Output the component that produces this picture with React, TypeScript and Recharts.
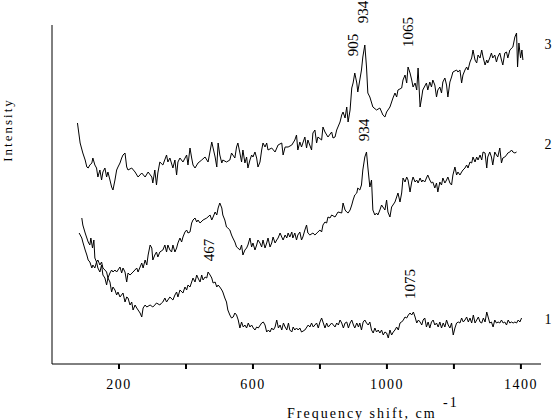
import React from 'react';
import { LineChart, Line, XAxis, YAxis } from 'recharts';

// Series 1 (bottom trace)
const s1Freq = [81,89,92,99,104,108,113,119,122,128,133,137,143,148,152,158,163,167,173,178,182,188,193,197,203,212,218,223,227,233,238,242,248,253,257,263,268,272,278,283,293,301,307,312,322,327,331,337,342,346,352,361,367,372,376,382,391,397,402,406,412,417,421,427,432,436,442,447,451,457,462,466,472,477,481,487,492,496,501,507,510,516,521,525,531,536,541,546,551,556,561,566,571,576,581,586,591,596,601,606,611,616,626,631,636,641,646,651,656,661,666,671,676,681,686,691,696,701,706,710,716,720,725,730,735,740,745,755,765,770,775,780,785,790,795,800,805,810,815,820,825,830,835,840,845,850,855,860,865,870,875,880,885,890,895,900,904,910,915,919,924,929,934,939,944,949,954,959,964,969,974,979,984,989,994,999,1004,1009,1014,1019,1024,1029,1034,1039,1044,1049,1054,1059,1064,1069,1074,1079,1084,1089,1094,1099,1104,1108,1113,1118,1123,1128,1133,1138,1143,1148,1153,1158,1163,1168,1173,1178,1183,1188,1193,1198,1203,1208,1213,1218,1223,1228,1233,1238,1243,1248,1253,1258,1263,1268,1273,1278,1283,1288,1293,1298,1303,1307,1312,1317,1322,1327,1332,1337,1342,1347,1352,1357,1362,1367,1372,1377,1382,1387,1392,1397,1402];
const s1Int = [131,126,122,114,109,104,102,96,99,96,102,96,92,99,89,86,79,86,82,72,77,74,69,72,67,71,62,67,66,59,62,54,59,56,54,51,47,56,59,57,59,57,59,61,59,61,62,66,62,64,67,64,69,72,67,74,71,77,74,79,77,82,86,82,89,86,82,89,84,87,86,92,89,86,81,82,77,79,77,74,72,66,62,54,49,46,47,51,49,44,36,42,37,39,36,41,37,39,36,34,37,36,41,42,39,32,34,32,36,34,37,44,36,39,34,41,37,34,41,34,32,37,34,36,34,36,32,34,39,37,41,37,39,41,36,42,46,41,36,41,37,39,41,39,37,41,39,44,41,36,41,42,36,41,44,39,36,41,37,41,34,42,44,41,39,42,34,31,36,32,34,31,34,29,32,31,26,34,29,32,34,37,34,41,42,44,47,46,49,51,49,52,47,41,44,42,39,44,46,37,42,36,42,44,39,41,37,42,36,41,37,44,39,36,41,29,36,41,42,41,46,42,44,47,42,46,41,49,41,44,47,42,41,46,42,52,46,41,42,37,44,41,42,41,44,41,42,39,44,41,42,41,42,41,44,42,46];

// Series 2 (middle trace)
const s2Freq = [89,92,99,104,108,113,116,121,125,128,133,137,143,148,152,158,163,167,173,178,182,188,193,197,203,208,212,218,223,227,233,242,253,257,263,268,272,278,283,287,293,298,301,307,312,316,322,331,337,342,346,352,357,361,367,372,376,382,387,391,397,402,406,412,417,421,427,432,436,442,451,462,472,477,481,487,492,496,501,507,510,516,521,525,531,536,540,546,551,555,561,566,570,576,581,585,591,596,600,606,611,615,621,626,630,636,641,645,651,656,660,666,671,675,681,686,690,696,701,705,710,716,719,725,730,734,740,745,749,755,760,764,770,779,785,794,800,805,809,815,820,824,830,835,845,854,865,869,875,880,884,890,895,899,904,910,913,919,924,928,934,939,943,949,954,958,964,969,973,979,984,988,994,999,1003,1009,1014,1018,1024,1029,1033,1039,1044,1048,1054,1059,1063,1069,1074,1078,1084,1089,1093,1099,1104,1107,1113,1118,1122,1128,1133,1137,1143,1148,1152,1158,1163,1167,1173,1178,1182,1188,1193,1197,1203,1208,1212,1218,1223,1227,1233,1238,1242,1248,1253,1257,1263,1268,1272,1278,1283,1287,1293,1298,1301,1307,1312,1316,1322,1327,1331,1337,1342,1346,1352,1357,1361,1367,1372,1376,1382,1387];
const s2Int = [146,139,131,126,122,119,126,116,124,106,102,104,99,102,96,94,92,86,91,94,92,94,92,94,97,91,96,92,82,91,89,92,96,92,97,101,96,104,99,109,119,116,104,109,112,107,112,114,119,112,119,114,112,119,112,116,121,126,122,127,132,134,131,132,141,144,146,142,144,141,144,146,149,144,147,152,149,156,161,156,149,144,137,136,134,129,126,122,117,116,114,119,109,114,116,119,126,117,121,114,119,124,121,117,124,116,121,126,117,121,127,121,124,126,131,127,124,129,126,131,127,132,126,131,124,129,132,124,127,134,139,131,129,131,129,132,134,132,139,142,141,147,146,149,147,152,151,161,154,152,151,154,159,164,169,171,176,174,179,194,207,212,197,177,184,154,149,151,149,154,159,157,154,164,152,147,157,159,162,167,171,162,171,186,182,187,184,172,182,187,182,184,181,186,182,184,182,186,189,184,181,182,176,181,172,182,179,186,181,184,187,181,179,189,197,189,192,189,192,194,196,199,196,202,201,207,202,207,204,209,204,212,211,196,207,212,207,199,212,209,207,216,201,206,207,209,211,212,214,212,211,212];

// Series 3 (top trace)
const s3Freq = [76,84,92,99,104,108,113,119,122,128,133,137,143,148,152,158,163,167,173,178,182,188,193,197,203,208,212,218,223,227,238,248,257,268,278,287,298,301,307,312,316,322,331,342,346,352,361,367,372,376,382,391,402,406,412,417,421,427,436,447,457,466,477,481,487,492,496,501,507,510,521,531,536,546,551,555,561,566,570,576,581,585,591,596,600,606,611,615,621,626,630,636,641,645,656,666,675,686,690,696,705,716,725,730,734,740,745,755,760,764,775,779,785,790,794,805,809,815,824,835,839,845,850,860,865,869,875,880,884,890,895,899,904,910,913,919,924,928,934,939,943,949,958,969,979,988,994,999,1009,1018,1024,1029,1033,1044,1048,1054,1059,1063,1069,1074,1078,1084,1089,1093,1099,1104,1107,1118,1122,1128,1133,1137,1143,1148,1152,1158,1163,1167,1173,1178,1182,1188,1193,1197,1208,1212,1218,1223,1227,1233,1238,1242,1248,1253,1257,1263,1268,1272,1278,1283,1287,1293,1298,1301,1307,1312,1316,1322,1327,1331,1337,1342,1346,1352,1357,1361,1367,1376,1382,1387,1390,1394,1399,1403,1406];
const s3Int = [241,221,211,204,197,196,199,201,206,199,196,187,194,184,192,196,187,192,184,177,174,184,194,197,201,206,209,211,197,194,196,192,187,191,187,192,187,181,194,179,191,202,199,209,202,206,196,204,189,202,206,202,209,199,216,206,199,196,201,204,207,202,222,216,207,197,221,209,201,204,202,204,211,206,217,221,211,202,214,201,207,196,204,209,207,212,206,197,202,214,221,217,221,214,216,212,219,221,209,217,217,219,224,229,214,222,217,227,216,224,214,231,234,221,227,224,237,232,227,232,226,227,234,242,249,252,246,257,242,254,276,281,291,281,272,284,294,307,319,297,271,267,257,254,256,249,247,252,257,266,271,267,274,276,284,289,281,297,291,284,277,281,274,296,257,267,274,281,274,282,277,284,279,267,274,277,271,282,286,279,267,282,287,292,294,292,294,281,289,294,297,294,302,306,314,304,301,309,306,314,307,299,304,301,306,311,306,309,302,307,311,304,299,311,312,306,314,317,327,331,297,321,306,314,304];

const xTicks = [200, 400, 600, 800, 1000, 1200, 1400];
const xLabelTicks = [200, 600, 1000, 1400];

const series = [
  { key: '1', freq: s1Freq, vals: s1Int },
  { key: '2', freq: s2Freq, vals: s2Int },
  { key: '3', freq: s3Freq, vals: s3Int },
];

const FONT = '"Liberation Serif", "Times New Roman", serif';

const XTick = (props: any) => {
  const { x, y, payload } = props;
  const label = xLabelTicks.includes(payload.value) ? String(payload.value) : '';
  return (
    <text x={x} y={y} dy={18} textAnchor="middle" fontFamily={FONT} fontSize={14} letterSpacing={1.5} fill="#000">
      {label}
    </text>
  );
};

const RotLabel = ({ x, y, text }: { x: number; y: number; text: string }) => (
  <text transform={`translate(${x},${y}) rotate(-90)`} textAnchor="middle" fontFamily={FONT} fontSize={15} fill="#000">
    {text}
  </text>
);

export default function App() {
  return (
    <div style={{ position: 'absolute', left: 0, top: 0, width: 560, height: 420, background: '#fff' }}>
      <LineChart width={560} height={420} margin={{ top: 25, right: 19, bottom: 26, left: 42 }}>
        <XAxis
          dataKey="f"
          type="number"
          domain={[0, 1460]}
          ticks={xTicks}
          allowDataOverflow
          axisLine={{ stroke: '#000', strokeWidth: 1 }}
          tickLine={{ stroke: '#000', strokeWidth: 2 }}
          tickSize={5}
          tick={<XTick />}
          height={30}
        />
        <YAxis
          type="number"
          domain={[0, 339]}
          tick={false}
          tickLine={false}
          axisLine={{ stroke: '#000', strokeWidth: 1 }}
          width={10}
        />
        {series.map((s) => (
          <Line
            key={s.key}
            data={s.freq.map((f, i) => ({ f, v: s.vals[i] }))}
            dataKey="v"
            type="linear"
            stroke="#000"
            strokeWidth={1}
            dot={false}
            activeDot={false}
            isAnimationActive={false}
          />
        ))}
        <text transform="translate(12,130) rotate(-90)" textAnchor="middle" fontFamily={FONT} fontSize={13} letterSpacing={2} fill="#000">Intensity</text>
        <text x={287} y={418} fontFamily={FONT} fontSize={14} letterSpacing={2} fill="#000">Frequency shift, cm</text>
        <text x={443} y={407} fontFamily={FONT} fontSize={14} letterSpacing={2} fill="#000">-1</text>
        <text x={548} y={49} textAnchor="middle" fontFamily={FONT} fontSize={14} fill="#000">3</text>
        <text x={548} y={149} textAnchor="middle" fontFamily={FONT} fontSize={14} fill="#000">2</text>
        <text x={548} y={324} textAnchor="middle" fontFamily={FONT} fontSize={14} fill="#000">1</text>
        <RotLabel x={358} y={45} text="905" />
        <RotLabel x={368} y={12} text="934" />
        <RotLabel x={413} y={32} text="1065" />
        <RotLabel x={369} y={130} text="934" />
        <RotLabel x={214} y={250} text="467" />
        <RotLabel x={415} y={284} text="1075" />
      </LineChart>
    </div>
  );
}
